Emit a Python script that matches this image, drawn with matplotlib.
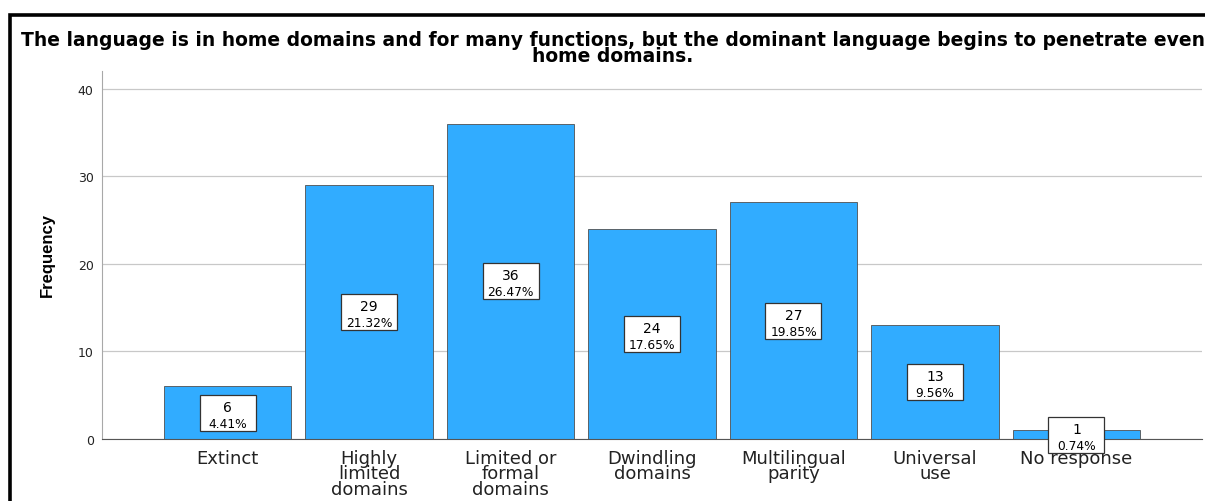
import matplotlib.pyplot as plt
from matplotlib.patches import Rectangle
from matplotlib.transforms import ScaledTranslation

categories = ["Extinct", "Highly\nlimited\ndomains", "Limited or\nformal\ndomains",
              "Dwindling\ndomains", "Multilingual\nparity", "Universal\nuse", "No response"]
counts = [6, 29, 36, 24, 27, 13, 1]
total = sum(counts)
percents = [c / total * 100 for c in counts]

title_lines = ["The language is in home domains and for many functions, but the dominant language begins to penetrate even",
               "home domains."]

plt.rcParams['font.family'] = ['DejaVu Sans']

W, H = 1205, 502
fig = plt.figure(figsize=(W / 100, H / 100), dpi=100)
ax = fig.add_axes([102 / W, 1 - 440 / H, 1100 / W, 368 / H])

x = list(range(len(categories)))
ax.bar(x, counts, width=0.9, color='#31acff', edgecolor='#505050', linewidth=0.6, zorder=2)

ax.set_xlim(-0.887, len(categories) - 1 + 0.887)
ax.set_ylim(0, 42)
ax.set_yticks([0, 10, 20, 30, 40])
ax.yaxis.grid(True, color='#c8c8c8', linewidth=0.9, zorder=0)
ax.set_axisbelow(True)

ax.set_xticks(x)
ax.set_xticklabels(categories, fontsize=13, linespacing=0.82, color='#222222')
ax.tick_params(axis='x', length=0, pad=7)
ax.tick_params(axis='y', labelsize=9, length=0, pad=6, labelcolor='#222222')

for s in ['top', 'right']:
    ax.spines[s].set_visible(False)
ax.spines['left'].set_color('#a8a8a8')
ax.spines['bottom'].set_color('#555555')

ax.set_ylabel("Frequency", fontsize=12, fontweight='bold',
              family=['Liberation Sans Narrow', 'Liberation Sans', 'DejaVu Sans'])
ax.yaxis.set_label_coords(-47 / 1100, (440 - 255) / 368)

# value boxes centred half-way up each bar
for i, (c, p) in enumerate(zip(counts, percents)):
    tr = fig.dpi_scale_trans + ScaledTranslation(i, c / 2, ax.transData)
    ax.add_patch(Rectangle((-0.28, -0.18), 0.56, 0.36, transform=tr, clip_on=False,
                           facecolor='white', edgecolor='#333333', linewidth=0.9, zorder=5))
    ax.text(0, 0.02, str(c), transform=tr, ha='center', va='baseline', fontsize=10, zorder=6)
    ax.text(0, -0.14, f"{p:.2f}%", transform=tr, ha='center', va='baseline', fontsize=8.8, zorder=6)

fig.text(613 / W, 1 - 45.5 / H, title_lines[0], ha='center', va='baseline',
         fontsize=13.5, fontweight='bold')
fig.text(613 / W, 1 - 62.5 / H, title_lines[1], ha='center', va='baseline',
         fontsize=13.5, fontweight='bold')

# outer frame
fig.patches.append(Rectangle((9.5 / W, -0.1), 1.2, (H - 15.5) / H + 0.1,
                             transform=fig.transFigure, fill=False,
                             edgecolor='black', linewidth=2.6))

fig.savefig("out.png", dpi=100)
